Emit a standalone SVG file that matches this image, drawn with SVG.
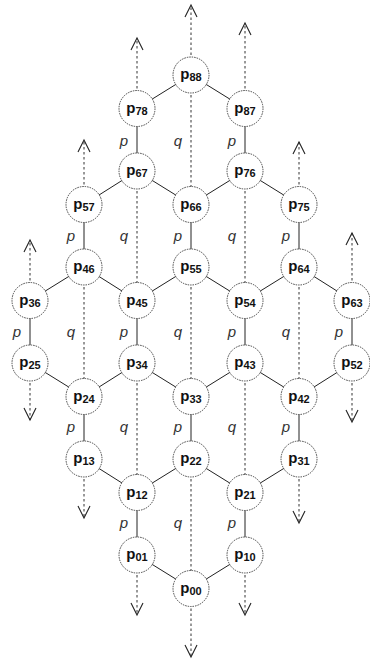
<svg xmlns="http://www.w3.org/2000/svg" width="370" height="661" viewBox="0 0 370 661">
<style>
.edge{stroke:#222;stroke-width:1;fill:none}
.dash{stroke:#333;stroke-width:1;stroke-dasharray:2.5 2.5;fill:none}
.node circle{fill:#fff;stroke:#444;stroke-width:1;stroke-dasharray:1.5 1}
.node text{font-family:"Liberation Sans",Arial,sans-serif;font-weight:bold;font-size:15px;fill:#111;text-anchor:middle}
.node tspan{font-size:11px}
.lbl{font-family:"Liberation Sans",Arial,sans-serif;font-style:italic;font-size:15px;fill:#333;text-anchor:middle}
</style>
<defs>
<marker id="arr" markerUnits="userSpaceOnUse" markerWidth="16" markerHeight="16" viewBox="-13 -8 16 16" refX="0" refY="0" orient="auto" overflow="visible">
<path d="M-12,-6 L0,0 L-12,6" fill="none" stroke="#222" stroke-width="1.1"/>
</marker>
</defs>
<rect width="370" height="661" fill="#fff"/>
<g id="connectors">
<line class="edge" x1="191" y1="75" x2="137" y2="108.5"/>
<line class="edge" x1="191" y1="75" x2="245" y2="108.5"/>
<line class="edge" x1="137" y1="108.5" x2="137" y2="171"/>
<line class="edge" x1="245" y1="108.5" x2="245" y2="171"/>
<line class="edge" x1="137" y1="171" x2="84" y2="204.5"/>
<line class="edge" x1="137" y1="171" x2="191" y2="204.5"/>
<line class="edge" x1="245" y1="171" x2="191" y2="204.5"/>
<line class="edge" x1="245" y1="171" x2="299" y2="204.5"/>
<line class="edge" x1="84" y1="204.5" x2="84" y2="267"/>
<line class="edge" x1="191" y1="204.5" x2="191" y2="267"/>
<line class="edge" x1="299" y1="204.5" x2="299" y2="267"/>
<line class="edge" x1="84" y1="267" x2="30" y2="300.5"/>
<line class="edge" x1="84" y1="267" x2="137" y2="300.5"/>
<line class="edge" x1="191" y1="267" x2="137" y2="300.5"/>
<line class="edge" x1="191" y1="267" x2="245" y2="300.5"/>
<line class="edge" x1="299" y1="267" x2="245" y2="300.5"/>
<line class="edge" x1="299" y1="267" x2="352" y2="300.5"/>
<line class="edge" x1="30" y1="300.5" x2="30" y2="363"/>
<line class="edge" x1="137" y1="300.5" x2="137" y2="363"/>
<line class="edge" x1="245" y1="300.5" x2="245" y2="363"/>
<line class="edge" x1="352" y1="300.5" x2="352" y2="363"/>
<line class="edge" x1="30" y1="363" x2="84" y2="396.5"/>
<line class="edge" x1="137" y1="363" x2="84" y2="396.5"/>
<line class="edge" x1="137" y1="363" x2="191" y2="396.5"/>
<line class="edge" x1="245" y1="363" x2="191" y2="396.5"/>
<line class="edge" x1="245" y1="363" x2="299" y2="396.5"/>
<line class="edge" x1="352" y1="363" x2="299" y2="396.5"/>
<line class="edge" x1="84" y1="396.5" x2="84" y2="459"/>
<line class="edge" x1="191" y1="396.5" x2="191" y2="459"/>
<line class="edge" x1="299" y1="396.5" x2="299" y2="459"/>
<line class="edge" x1="84" y1="459" x2="137" y2="492.5"/>
<line class="edge" x1="191" y1="459" x2="137" y2="492.5"/>
<line class="edge" x1="191" y1="459" x2="245" y2="492.5"/>
<line class="edge" x1="299" y1="459" x2="245" y2="492.5"/>
<line class="edge" x1="137" y1="492.5" x2="137" y2="555"/>
<line class="edge" x1="245" y1="492.5" x2="245" y2="555"/>
<line class="edge" x1="137" y1="555" x2="191" y2="588.5"/>
<line class="edge" x1="245" y1="555" x2="191" y2="588.5"/>
<line class="dash" x1="191" y1="75" x2="191" y2="5" marker-end="url(#arr)"/>
<line class="dash" x1="191" y1="75" x2="191" y2="204.5"/>
<line class="dash" x1="191" y1="267" x2="191" y2="396.5"/>
<line class="dash" x1="191" y1="459" x2="191" y2="588.5"/>
<line class="dash" x1="191" y1="588.5" x2="191" y2="657" marker-end="url(#arr)"/>
<line class="dash" x1="137" y1="108.5" x2="137" y2="38" marker-end="url(#arr)"/>
<line class="dash" x1="137" y1="171" x2="137" y2="300.5"/>
<line class="dash" x1="137" y1="363" x2="137" y2="492.5"/>
<line class="dash" x1="137" y1="555" x2="137" y2="615" marker-end="url(#arr)"/>
<line class="dash" x1="245" y1="108.5" x2="245" y2="23" marker-end="url(#arr)"/>
<line class="dash" x1="245" y1="171" x2="245" y2="300.5"/>
<line class="dash" x1="245" y1="363" x2="245" y2="492.5"/>
<line class="dash" x1="245" y1="555" x2="245" y2="615" marker-end="url(#arr)"/>
<line class="dash" x1="84" y1="204.5" x2="84" y2="140" marker-end="url(#arr)"/>
<line class="dash" x1="84" y1="267" x2="84" y2="396.5"/>
<line class="dash" x1="84" y1="459" x2="84" y2="518" marker-end="url(#arr)"/>
<line class="dash" x1="299" y1="204.5" x2="299" y2="142" marker-end="url(#arr)"/>
<line class="dash" x1="299" y1="267" x2="299" y2="396.5"/>
<line class="dash" x1="299" y1="459" x2="299" y2="523" marker-end="url(#arr)"/>
<line class="dash" x1="30" y1="300.5" x2="30" y2="240" marker-end="url(#arr)"/>
<line class="dash" x1="30" y1="363" x2="30" y2="420" marker-end="url(#arr)"/>
<line class="dash" x1="352" y1="300.5" x2="352" y2="233" marker-end="url(#arr)"/>
<line class="dash" x1="352" y1="363" x2="352" y2="422" marker-end="url(#arr)"/>
</g>
<g id="labels">
<text class="lbl" x="124" y="146">p</text>
<text class="lbl" x="178" y="146">q</text>
<text class="lbl" x="232" y="146">p</text>
<text class="lbl" x="71" y="241">p</text>
<text class="lbl" x="124" y="241">q</text>
<text class="lbl" x="178" y="241">p</text>
<text class="lbl" x="232" y="241">q</text>
<text class="lbl" x="286" y="241">p</text>
<text class="lbl" x="17" y="337">p</text>
<text class="lbl" x="71" y="337">q</text>
<text class="lbl" x="124" y="337">p</text>
<text class="lbl" x="178" y="337">q</text>
<text class="lbl" x="232" y="337">p</text>
<text class="lbl" x="286" y="337">q</text>
<text class="lbl" x="339" y="337">p</text>
<text class="lbl" x="71" y="432">p</text>
<text class="lbl" x="124" y="432">q</text>
<text class="lbl" x="178" y="432">p</text>
<text class="lbl" x="232" y="432">q</text>
<text class="lbl" x="286" y="432">p</text>
<text class="lbl" x="124" y="528">p</text>
<text class="lbl" x="178" y="528">q</text>
<text class="lbl" x="232" y="528">p</text>
</g>
<g id="p88" class="node"><circle cx="191" cy="75" r="18"/><text x="191" y="79">p<tspan dy="2">88</tspan></text></g>
<g id="p78" class="node"><circle cx="137" cy="108.5" r="18"/><text x="137" y="112.5">p<tspan dy="2">78</tspan></text></g>
<g id="p87" class="node"><circle cx="245" cy="108.5" r="18"/><text x="245" y="112.5">p<tspan dy="2">87</tspan></text></g>
<g id="p67" class="node"><circle cx="137" cy="171" r="18"/><text x="137" y="175">p<tspan dy="2">67</tspan></text></g>
<g id="p76" class="node"><circle cx="245" cy="171" r="18"/><text x="245" y="175">p<tspan dy="2">76</tspan></text></g>
<g id="p57" class="node"><circle cx="84" cy="204.5" r="18"/><text x="84" y="208.5">p<tspan dy="2">57</tspan></text></g>
<g id="p66" class="node"><circle cx="191" cy="204.5" r="18"/><text x="191" y="208.5">p<tspan dy="2">66</tspan></text></g>
<g id="p75" class="node"><circle cx="299" cy="204.5" r="18"/><text x="299" y="208.5">p<tspan dy="2">75</tspan></text></g>
<g id="p46" class="node"><circle cx="84" cy="267" r="18"/><text x="84" y="271">p<tspan dy="2">46</tspan></text></g>
<g id="p55" class="node"><circle cx="191" cy="267" r="18"/><text x="191" y="271">p<tspan dy="2">55</tspan></text></g>
<g id="p64" class="node"><circle cx="299" cy="267" r="18"/><text x="299" y="271">p<tspan dy="2">64</tspan></text></g>
<g id="p36" class="node"><circle cx="30" cy="300.5" r="18"/><text x="30" y="304.5">p<tspan dy="2">36</tspan></text></g>
<g id="p45" class="node"><circle cx="137" cy="300.5" r="18"/><text x="137" y="304.5">p<tspan dy="2">45</tspan></text></g>
<g id="p54" class="node"><circle cx="245" cy="300.5" r="18"/><text x="245" y="304.5">p<tspan dy="2">54</tspan></text></g>
<g id="p63" class="node"><circle cx="352" cy="300.5" r="18"/><text x="352" y="304.5">p<tspan dy="2">63</tspan></text></g>
<g id="p25" class="node"><circle cx="30" cy="363" r="18"/><text x="30" y="367">p<tspan dy="2">25</tspan></text></g>
<g id="p34" class="node"><circle cx="137" cy="363" r="18"/><text x="137" y="367">p<tspan dy="2">34</tspan></text></g>
<g id="p43" class="node"><circle cx="245" cy="363" r="18"/><text x="245" y="367">p<tspan dy="2">43</tspan></text></g>
<g id="p52" class="node"><circle cx="352" cy="363" r="18"/><text x="352" y="367">p<tspan dy="2">52</tspan></text></g>
<g id="p24" class="node"><circle cx="84" cy="396.5" r="18"/><text x="84" y="400.5">p<tspan dy="2">24</tspan></text></g>
<g id="p33" class="node"><circle cx="191" cy="396.5" r="18"/><text x="191" y="400.5">p<tspan dy="2">33</tspan></text></g>
<g id="p42" class="node"><circle cx="299" cy="396.5" r="18"/><text x="299" y="400.5">p<tspan dy="2">42</tspan></text></g>
<g id="p13" class="node"><circle cx="84" cy="459" r="18"/><text x="84" y="463">p<tspan dy="2">13</tspan></text></g>
<g id="p22" class="node"><circle cx="191" cy="459" r="18"/><text x="191" y="463">p<tspan dy="2">22</tspan></text></g>
<g id="p31" class="node"><circle cx="299" cy="459" r="18"/><text x="299" y="463">p<tspan dy="2">31</tspan></text></g>
<g id="p12" class="node"><circle cx="137" cy="492.5" r="18"/><text x="137" y="496.5">p<tspan dy="2">12</tspan></text></g>
<g id="p21" class="node"><circle cx="245" cy="492.5" r="18"/><text x="245" y="496.5">p<tspan dy="2">21</tspan></text></g>
<g id="p01" class="node"><circle cx="137" cy="555" r="18"/><text x="137" y="559">p<tspan dy="2">01</tspan></text></g>
<g id="p10" class="node"><circle cx="245" cy="555" r="18"/><text x="245" y="559">p<tspan dy="2">10</tspan></text></g>
<g id="p00" class="node"><circle cx="191" cy="588.5" r="18"/><text x="191" y="592.5">p<tspan dy="2">00</tspan></text></g>
</svg>
